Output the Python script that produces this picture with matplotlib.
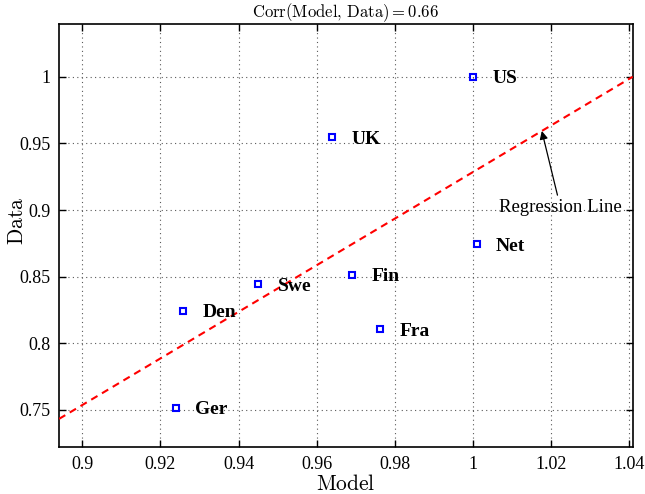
import numpy as np
import matplotlib
matplotlib.use("Agg")
import matplotlib.pyplot as plt

# Country values
Countries = ["US", "UK", "Net", "Fin", "Swe", "Den", "Fra", "Ger"]
Model = [1.000, 0.9639, 1.0010, 0.9691, 0.9451, 0.9257, 0.9762, 0.9239]
Data = [1.000, 0.9547, 0.8744, 0.8514, 0.8444, 0.8246, 0.8108, 0.7517]

x_ticks = [0.9, 0.92, 0.94, 0.96, 0.98, 1, 1.02, 1.04]
x_ticklabels = ["0.9", "0.92", "0.94", "0.96", "0.98", "1", "1.02", "1.04"]
y_ticks = [0.75, 0.8, 0.85, 0.9, 0.95, 1]
y_ticklabels = ["0.75", "0.8", "0.85", "0.9", "0.95", "1"]
x_lim = [0.894, 1.041]
y_lim = [0.722, 1.0396]

plt.rcParams["mathtext.fontset"] = "cm"

# Regression of Data on Model and correlation
slope, intercept = np.polyfit(Model, Data, 1)
corr = np.corrcoef(Model, Data)[0, 1]

fig = plt.figure(figsize=(6.45, 4.94), dpi=100)
ax = fig.add_axes([0.0915, 0.0945, 0.8895, 0.857])

# Regression line across the axis range
line_x = np.array(x_lim)
ax.plot(line_x, intercept + slope * line_x, color="red", linestyle=(0, (3.5, 2.5)), linewidth=1.5, zorder=3)

# Country points and labels
ax.plot(Model, Data, "s", markersize=4.5, markerfacecolor="none", markeredgecolor="blue", markeredgewidth=1.5, zorder=4)
for name, mx, dy in zip(Countries, Model, Data):
      ax.annotate(name, (mx, dy), xytext=(14, -1.5), textcoords="offset points", va="center", ha="left",
                  fontsize=14, fontweight="bold", family="Liberation Serif")

# Arrow pointing at the regression line
arrow_x = 1.0177
ax.annotate("Regression Line", xy=(arrow_x, intercept + slope * arrow_x), xytext=(1.0225, 0.9017),
            ha="center", va="center", fontsize=13.5, family="Liberation Serif",
            arrowprops=dict(arrowstyle="-|>", color="black", lw=0.9, mutation_scale=12, shrinkA=1, shrinkB=0))

# Setting the plot metadata
ax.set_title(r"$\mathrm{Corr(Model,\,Data) = %.2f}$" % corr, fontsize=12, pad=5)
ax.set_xlabel(r"$\mathrm{Model}$", fontsize=15.5, labelpad=1)
ax.set_ylabel(r"$\mathrm{Data}$", fontsize=15.5)
ax.yaxis.set_label_coords(-0.056, 0.535)
ax.set_xlim(x_lim)
ax.set_ylim(y_lim)
ax.set_xticks(x_ticks)
ax.set_xticklabels(x_ticklabels, family="Liberation Serif", fontsize=13)
ax.set_yticks(y_ticks)
ax.set_yticklabels(y_ticklabels, family="Liberation Serif", fontsize=13)
ax.tick_params(direction="in", top=True, right=True, length=5, width=1, pad=6)
ax.grid(True, linestyle=(0, (1, 3)), color="0.35", linewidth=0.8)
for spine in ax.spines.values():
      spine.set_linewidth(1.2)

plt.savefig("out.png", dpi=100)
plt.close()
